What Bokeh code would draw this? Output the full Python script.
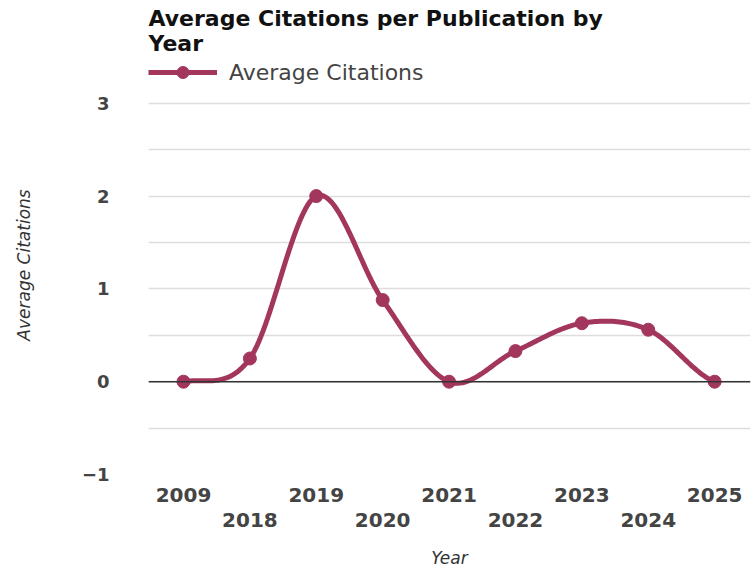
import numpy as np
from bokeh.plotting import figure
from bokeh.models import Legend, LegendItem, LinearAxis, FixedTicker, Span
from bokeh.embed import file_html
from bokeh.resources import INLINE

years = ["2009", "2018", "2019", "2020", "2021", "2022", "2023", "2024", "2025"]
avg_citations = [0.0, 0.25, 2.0, 0.88, 0.0, 0.33, 0.63, 0.56, 0.0]
y_tick_values = [-1, 0, 1, 2, 3]
y_grid_values = [-1, -0.5, 0, 0.5, 1, 1.5, 2, 2.5, 3]

COLOR = "#a2365d"
FONT = "DejaVu Sans"

x_idx = list(range(len(years)))

# Catmull-Rom smoothing through the data points (rendering only)
def catmull_rom(xs, ys, n=30):
    ys = np.asarray(ys, dtype=float)
    m = np.zeros_like(ys)
    for i in range(len(ys)):
        a = ys[max(i - 1, 0)]
        b = ys[min(i + 1, len(ys) - 1)]
        m[i] = (b - a) / 2.0
    out_x, out_y = [], []
    for i in range(len(ys) - 1):
        t = np.linspace(0, 1, n, endpoint=False)
        h00 = 2 * t**3 - 3 * t**2 + 1
        h10 = t**3 - 2 * t**2 + t
        h01 = -2 * t**3 + 3 * t**2
        h11 = t**3 - t**2
        out_x.extend(list(xs[i] + t))
        out_y.extend(list(h00 * ys[i] + h10 * m[i] + h01 * ys[i + 1] + h11 * m[i + 1]))
    out_x.append(xs[-1])
    out_y.append(ys[-1])
    return out_x, out_y

sx, sy = catmull_rom(x_idx, avg_citations)

p = figure(width=754, height=570, output_backend="svg", toolbar_location=None,
           x_range=(-0.527, 8.54), y_range=(-1, 3.515),
           min_border_left=148, min_border_right=4, min_border_top=55, min_border_bottom=94)

p.title.text = "Average Citations per Publication by\nYear"
p.title.text_font = FONT
p.title.text_font_size = "22px"
p.title.text_font_style = "bold"
p.title.text_color = "#111111"
p.title.align = "left"
p.title.standoff = 0
p.title.text_line_height = 1.0

p.outline_line_color = None
p.background_fill_color = "white"

# y axis
p.yaxis.ticker = FixedTicker(ticks=y_tick_values, minor_ticks=[])
p.yaxis.axis_line_color = None
p.yaxis.major_tick_line_color = None
p.yaxis.minor_tick_line_color = None
p.yaxis.major_label_text_font = FONT
p.yaxis.major_label_text_font_size = "18px"
p.yaxis.major_label_text_font_style = "bold"
p.yaxis.major_label_text_color = "#444444"
p.yaxis.major_label_standoff = 33
p.yaxis.axis_label = "Average Citations"
p.yaxis.axis_label_text_font = FONT
p.yaxis.axis_label_text_font_size = "17px"
p.yaxis.axis_label_text_font_style = "italic"
p.yaxis.axis_label_text_color = "#333333"
p.yaxis.axis_label_standoff = 45

p.ygrid.ticker = FixedTicker(ticks=y_grid_values)
p.ygrid.grid_line_color = "#dddddd"
p.ygrid.grid_line_width = 1.5
p.xgrid.grid_line_color = None

# x axes (staggered labels)
even = [i for i in x_idx if i % 2 == 0]
odd = [i for i in x_idx if i % 2 == 1]

xa = p.xaxis[0]
xa.ticker = FixedTicker(ticks=even, minor_ticks=[])
xa.major_label_overrides = {i: years[i] for i in even}

xb = LinearAxis(ticker=FixedTicker(ticks=odd, minor_ticks=[]))
xb.major_label_overrides = {i: years[i] for i in odd}
xb.axis_label = "Year"
p.add_layout(xb, "below")

for ax in (xa, xb):
    ax.axis_line_color = None
    ax.major_tick_line_color = None
    ax.minor_tick_line_color = None
    ax.major_tick_out = 0
    ax.major_tick_in = 0
    ax.major_label_text_font = FONT
    ax.major_label_text_font_size = "20px"
    ax.major_label_text_font_style = "bold"
    ax.major_label_text_color = "#444444"
xa.major_label_standoff = 13
xb.major_label_standoff = 8
xb.axis_label_text_font = FONT
xb.axis_label_text_font_size = "17px"
xb.axis_label_text_font_style = "italic"
xb.axis_label_text_color = "#333333"
xb.axis_label_standoff = 18

zero = Span(location=0, dimension="width", line_color="#333333", line_width=1.5)
p.add_layout(zero)

ln = p.line(sx, sy, line_color=COLOR, line_width=5)
sc = p.scatter(x_idx, avg_citations, size=13, fill_color=COLOR, line_color=COLOR)

legend = Legend(items=[LegendItem(label="Average Citations", renderers=[ln, sc])],
                location=(0, 387), orientation="horizontal")
legend.glyph_width = 69
legend.glyph_height = 30
legend.label_text_font = FONT
legend.label_text_font_size = "22px"
legend.label_text_color = "#444444"
legend.label_standoff = 12
legend.border_line_color = None
legend.background_fill_alpha = 0
legend.padding = 0
legend.margin = 0
p.add_layout(legend, "center")

open("out.html", "w").write(file_html(p, INLINE))
